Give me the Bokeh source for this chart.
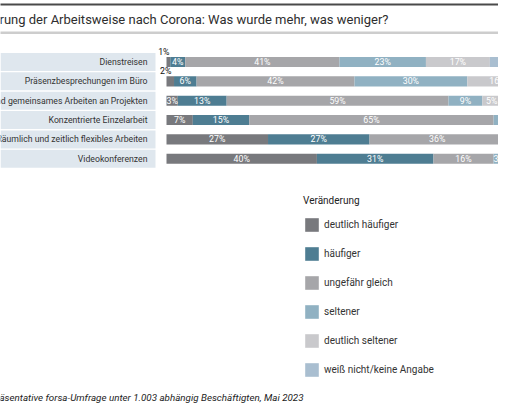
from bokeh.plotting import figure
from bokeh.models import Range1d, ColumnDataSource, Legend, LegendItem
from bokeh.core.properties import value
from bokeh.embed import file_html
from bokeh.resources import INLINE

# ---------------- data ----------------
categories = [
    "Dienstreisen",
    "Präsenzbesprechungen im Büro",
    "s und gemeinsames Arbeiten an Projekten",
    "Konzentrierte Einzelarbeit",
    "Räumlich und zeitlich flexibles Arbeiten",
    "Videokonferenzen",
]
series_names = [
    "deutlich häufiger",
    "häufiger",
    "ungefähr gleich",
    "seltener",
    "deutlich seltener",
    "weiß nicht/keine Angabe",
]
deutlich_haeufiger = [1, 2, 3, 7, 27, 40]
haeufiger = [4, 6, 13, 15, 27, 31]
ungefaehr_gleich = [41, 42, 59, 65, 36, 16]
seltener = [23, 30, 9, 6, 3, 3]
deutlich_seltener = [17, 16, 5, 2, 5, 2]
weiss_nicht = [14, 4, 11, 5, 2, 8]
series_colors = ["#78797d", "#4e7d92", "#a6a6a9", "#90b1c2", "#c9c9cc", "#a9bed0"]

title_text = "Veränderung der Arbeitsweise nach Corona: Was wurde mehr, was weniger?"
legend_title = "Veränderung"
source_text = "Repräsentative forsa-Umfrage unter 1.003 abhängig Beschäftigten, Mai 2023"

# ---------------- layout (picture pixels) ----------------
W, H = 498, 404
BAR_X0 = 166            # x pixel of 0 %
PX_PER_PCT = 3.76       # pixels per percent
ROW0_Y = 61.5           # y pixel of first row
ROW_PITCH = 19.35       # pixels per row
FONT = value("Roboto")


def xd(px):
    return (px - BAR_X0) / PX_PER_PCT


def yd(py):
    return (py - ROW0_Y) / ROW_PITCH


p = figure(width=W, height=H, output_backend="svg", toolbar_location=None,
           x_range=Range1d(xd(0), xd(W)),
           y_range=Range1d(yd(H), yd(0)),
           min_border=0, outline_line_color=None)
p.xaxis.visible = False
p.yaxis.visible = False
p.grid.visible = False
p.background_fill_color = "white"

rows = list(range(len(categories)))

# header lines and title
p.quad(left=[xd(-10)], right=[xd(W + 10)], top=[yd(3)], bottom=[yd(5)],
       fill_color="#4a4a4a", line_color=None)
p.quad(left=[xd(-10)], right=[xd(W + 10)], top=[yd(31)], bottom=[yd(33.5)],
       fill_color="#cdcdcd", line_color=None)
p.text(x=[xd(388)], y=[yd(18.5)], text=[title_text], text_align="right",
       text_baseline="middle", text_font=FONT, text_font_size="13px",
       text_color="#2e2e2e")

# category label bands
p.hbar(y=rows, left=xd(-60), right=xd(155), height=0.93,
       fill_color="#dfe7ee", line_color=None)
p.text(x=[xd(147)] * len(rows), y=rows, text=categories, text_align="right",
       text_baseline="middle", text_font=FONT, text_font_size="8.7px",
       text_color="#333333")

# stacked bars
all_series = [deutlich_haeufiger, haeufiger, ungefaehr_gleich, seltener,
              deutlich_seltener, weiss_nicht]
cum = [0.0] * len(rows)
legend_items = []
in_x, in_y, in_t = [], [], []
out_x, out_y, out_t = [], [], []
for name, vals, col in zip(series_names, all_series, series_colors):
    left = list(cum)
    right = [c + v for c, v in zip(cum, vals)]
    src = ColumnDataSource(dict(y=rows, left=left, right=right))
    r = p.hbar(y="y", left="left", right="right", height=0.52, source=src,
               fill_color=col, line_color=None)
    legend_items.append(LegendItem(label=name, renderers=[r]))
    for i, (l, v) in enumerate(zip(left, vals)):
        mid = l + v / 2
        if v >= 3:
            in_x.append(mid)
            in_y.append(i)
            in_t.append(f"{v}%")
        else:
            out_x.append(mid - 1.2)
            out_y.append(i - 0.52)
            out_t.append(f"{v}%")
    cum = right

p.text(x=in_x, y=in_y, text=in_t, text_align="center", text_baseline="middle",
       text_font=FONT, text_font_size="8.8px", text_color="white")
p.text(x=out_x, y=out_y, text=out_t, text_align="center", text_baseline="middle",
       text_font=FONT, text_font_size="8.8px", text_color="#111111")

# source line
p.text(x=[xd(303)], y=[yd(397)], text=[source_text], text_align="right",
       text_baseline="middle", text_font=FONT, text_font_size="9.8px",
       text_font_style="italic", text_color="#222222")

legend = Legend(items=legend_items, title=legend_title, location=(303, 26),
                orientation="vertical",
                glyph_width=17, glyph_height=17, label_height=17, spacing=12,
                label_standoff=4, padding=0, margin=0,
                border_line_color=None, background_fill_alpha=0,
                title_text_font="Roboto", title_text_font_size="10px",
                title_text_font_style="normal", title_text_color="#222222",
                title_standoff=10,
                label_text_font="Roboto", label_text_font_size="10px",
                label_text_color="#333333")
p.add_layout(legend)

open("out.html", "w").write(file_html(p, INLINE))
